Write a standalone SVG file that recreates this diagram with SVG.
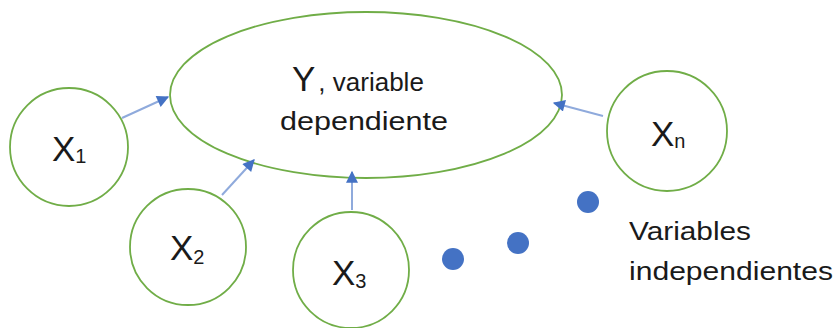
<svg xmlns="http://www.w3.org/2000/svg" width="838" height="328" viewBox="0 0 838 328">
<defs>
<style>
.node{fill:#fff;stroke:#70AD47;stroke-width:1.8}
.lbl{font-family:"Liberation Sans",Arial,sans-serif;fill:#1a1a1a}
.big{font-size:35px}
.sub{font-size:20px}
.txt{font-size:26px}
.conn{stroke:#8FAADC;stroke-width:2;fill:none;marker-end:url(#ah)}
.dot{fill:#4472C4}
</style>
<marker id="ah" viewBox="0 0 10 10" refX="9" refY="5" markerWidth="14" markerHeight="12" markerUnits="userSpaceOnUse" orient="auto">
<path d="M0,0 L10,5 L0,10 z" fill="#4472C4"/>
</marker>
</defs>
<rect width="838" height="328" fill="#fff"/>
<g id="Y">
<ellipse class="node" cx="366" cy="95" rx="196" ry="83"/>
<text class="lbl" x="292" y="91"><tspan class="big">Y</tspan><tspan class="txt" dx="3">, variable</tspan></text>
<text class="lbl txt" x="280" y="130" textLength="168" lengthAdjust="spacingAndGlyphs">dependiente</text>
</g>
<g id="X1">
<circle class="node" cx="69" cy="147" r="59"/>
<text class="lbl" x="52" y="161"><tspan class="big">X</tspan><tspan class="sub" dy="2">1</tspan></text>
</g>
<g id="X2">
<circle class="node" cx="188" cy="247" r="58"/>
<text class="lbl" x="170" y="260"><tspan class="big">X</tspan><tspan class="sub" dy="4">2</tspan></text>
</g>
<g id="X3">
<circle class="node" cx="351" cy="270" r="58"/>
<text class="lbl" x="332" y="285"><tspan class="big">X</tspan><tspan class="sub" dy="3">3</tspan></text>
</g>
<g id="Xn">
<circle class="node" cx="667" cy="131" r="60"/>
<text class="lbl" x="651" y="146"><tspan class="big">X</tspan><tspan class="sub" dy="2">n</tspan></text>
</g>
<g id="dots">
<circle class="dot" cx="453" cy="259" r="11"/>
<circle class="dot" cx="518" cy="243" r="11"/>
<circle class="dot" cx="588" cy="202" r="11"/>
</g>
<g id="label">
<text class="lbl txt" x="629" y="240" textLength="122" lengthAdjust="spacingAndGlyphs">Variables</text>
<text class="lbl txt" x="629" y="280" textLength="204" lengthAdjust="spacingAndGlyphs">independientes</text>
</g>
<g id="connectors">
<line class="conn" x1="122" y1="118" x2="168" y2="97"/>
<line class="conn" x1="222" y1="195" x2="254" y2="160"/>
<line class="conn" x1="352" y1="210" x2="352" y2="172"/>
<line class="conn" x1="603" y1="116" x2="554" y2="103"/>
</g>
</svg>
